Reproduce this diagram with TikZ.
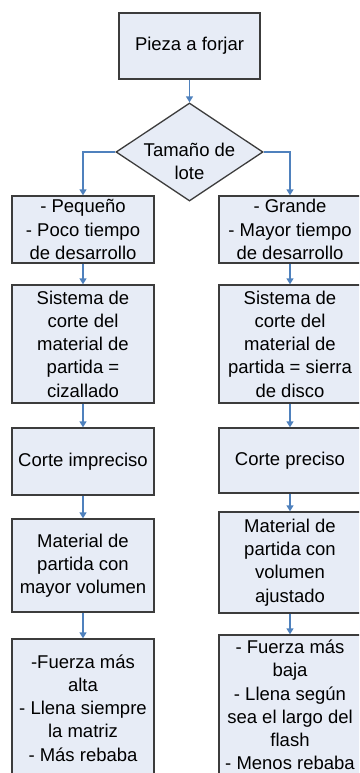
\documentclass[tikz,border=0pt]{standalone}
\usepackage{fontspec}
\setmainfont{Liberation Sans}
\usetikzlibrary{shapes.geometric,arrows.meta}
\definecolor{boxfill}{RGB}{231,236,246}
\definecolor{boxline}{RGB}{60,60,60}
\definecolor{flowblue}{RGB}{79,129,189}

\begin{document}
\begin{tikzpicture}[x=1pt,y=-1pt,
    box/.style={draw=boxline, fill=boxfill, line width=1.3pt, minimum width=142pt, inner sep=0pt, align=center, font=\fontsize{18.5}{23.2}\selectfont},
    flow/.style={flowblue, line width=1.4pt, -{Triangle[length=6pt,width=7pt]}}]
    \useasboundingbox (0,0) rectangle (359,773);
    \clip (0,0) rectangle (359,773);

    \node[box, minimum width=141pt, minimum height=66pt] (pieza) at (189.5,46) {Pieza a forjar};
    \node[box, diamond, aspect=1.5, minimum width=147pt, minimum height=98pt] (lote) at (189.5,152)
        {\raisebox{-16pt}[0pt][0pt]{\begin{tabular}{@{}c@{}}Tamaño de\\lote\end{tabular}}};

    % lote pequeño
    \node[box, minimum height=67pt] (peq) at (83,229.5) {- Pequeño\\- Poco tiempo\\de desarrollo};
    \node[box, minimum height=118pt] (ciz) at (83,344) {Sistema de\\corte del\\material de\\partida =\\cizallado};
    \node[box, minimum height=67pt] (impr) at (83,461.5) {Corte impreciso};
    \node[box, minimum height=93pt] (mayvol) at (83,565.5) {Material de\\partida con\\mayor volumen};
    \node[box, minimum height=138pt] (fzalta) at (83,708) {-Fuerza más\\alta\\- Llena siempre\\la matriz\\- Más rebaba};

    % lote grande
    \node[box, minimum height=67pt] (gra) at (290,229.5) {- Grande\\- Mayor tiempo\\de desarrollo};
    \node[box, minimum height=118pt] (sierra) at (290,344) {Sistema de\\corte del\\material de\\partida = sierra\\de disco};
    \node[box, minimum height=65pt] (prec) at (290,460.5) {Corte preciso};
    \node[box, minimum height=101pt] (ajus) at (290,562.5) {Material de\\partida con\\volumen\\ajustado};
    \node[box, minimum height=140pt] (fzbaja) at (290,705) {- Fuerza más\\baja\\- Llena según\\sea el largo del\\flash\\- Menos rebaba};

    % Connections
    \draw[flow] (lote.west) -| (peq.north);
    \draw[flow] (lote.east) -| (gra.north);
    \foreach \a/\b in {pieza/lote, peq/ciz, ciz/impr, impr/mayvol, mayvol/fzalta, gra/sierra, sierra/prec, prec/ajus, ajus/fzbaja}
        \draw[flow] (\a.south) -- (\b.north);
\end{tikzpicture}
\end{document}
